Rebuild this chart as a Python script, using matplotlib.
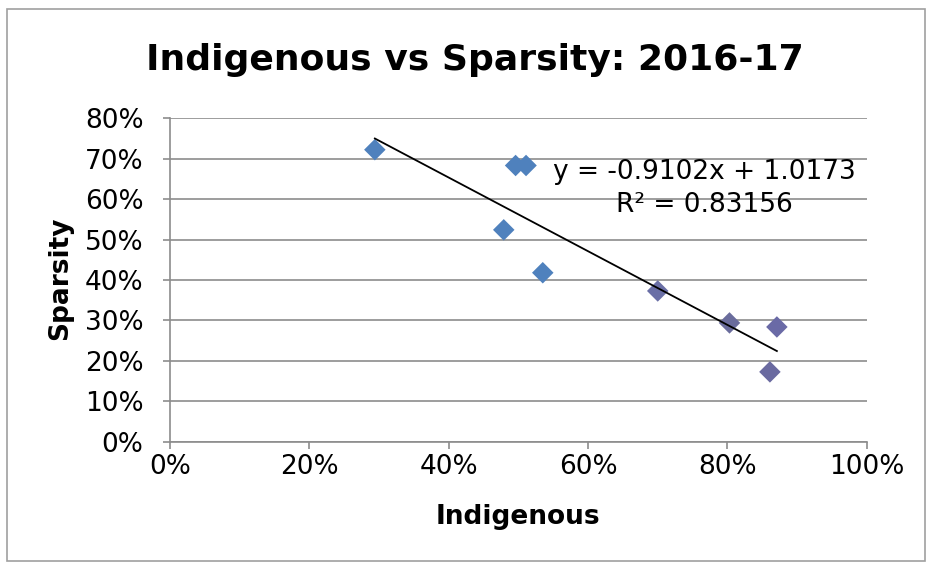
import matplotlib.pyplot as plt
from matplotlib.patches import Rectangle
from matplotlib.ticker import PercentFormatter, MultipleLocator

# Valores (fracciones)
indigenous = [0.294, 0.496, 0.511, 0.479, 0.535, 0.700, 0.803, 0.871, 0.861]
sparsity = [0.722, 0.683, 0.683, 0.524, 0.418, 0.373, 0.294, 0.284, 0.173]
point_colors = ['#4F81BD', '#4F81BD', '#4F81BD', '#4F81BD', '#4F81BD',
                '#6A6FA6', '#6A6C9C', '#6A6AA6', '#6A6AA0']

slope = -0.9102
intercept = 1.0173
r2 = 0.83156


def generate_scatter():
    fig = plt.figure(figsize=(9.29, 5.68), dpi=100)
    ax = fig.add_axes([0.183, 0.222, 0.750, 0.570])

    ax.scatter(indigenous, sparsity, marker='D', s=120, c=point_colors,
               zorder=3, linewidths=0)

    # linea de tendencia
    x0, x1 = min(indigenous), max(indigenous)
    ax.plot([x0, x1], [slope * x0 + intercept, slope * x1 + intercept],
            color='black', lw=1.3, zorder=4)

    ax.text(0.55, 0.667, f'y = {slope}x + {intercept}', fontsize=19,
            va='center')
    ax.text(0.64, 0.585, f'R² = {r2}', fontsize=19, va='center')

    ax.set_xlim(0, 1)
    ax.set_ylim(0, 0.8)
    ax.xaxis.set_major_locator(MultipleLocator(0.2))
    ax.yaxis.set_major_locator(MultipleLocator(0.1))
    ax.xaxis.set_major_formatter(PercentFormatter(1.0, decimals=0))
    ax.yaxis.set_major_formatter(PercentFormatter(1.0, decimals=0))
    ax.grid(axis='y', color='#8C8C8C', lw=1.2)
    ax.set_axisbelow(True)
    for s in ['top', 'right']:
        ax.spines[s].set_visible(False)
    for s in ['left', 'bottom']:
        ax.spines[s].set_color('#8C8C8C')
        ax.spines[s].set_linewidth(1.2)
    ax.tick_params(colors='#8C8C8C', labelcolor='black', labelsize=19,
                   length=5, width=1.2)
    ax.tick_params(axis='y', pad=14)
    ax.tick_params(axis='x', pad=4)

    ax.set_xlabel('Indigenous', fontsize=19, fontweight='bold', va='center')
    ax.set_ylabel('Sparsity', fontsize=19, fontweight='bold', va='center')
    ax.xaxis.set_label_coords(0.5, -0.232)
    ax.yaxis.set_label_coords(-0.157, 0.505)
    fig.suptitle('Indigenous vs Sparsity: 2016-17', fontsize=26,
                 fontweight='bold', x=0.511, y=0.894, va='center')

    # marco exterior
    fig.patches.append(Rectangle((0.008, 0.012), 0.988, 0.972,
                                 transform=fig.transFigure, fill=False,
                                 edgecolor='#A0A0A0', lw=1.2))
    plt.savefig('out.png')
    plt.close()


if __name__ == '__main__':
    generate_scatter()
